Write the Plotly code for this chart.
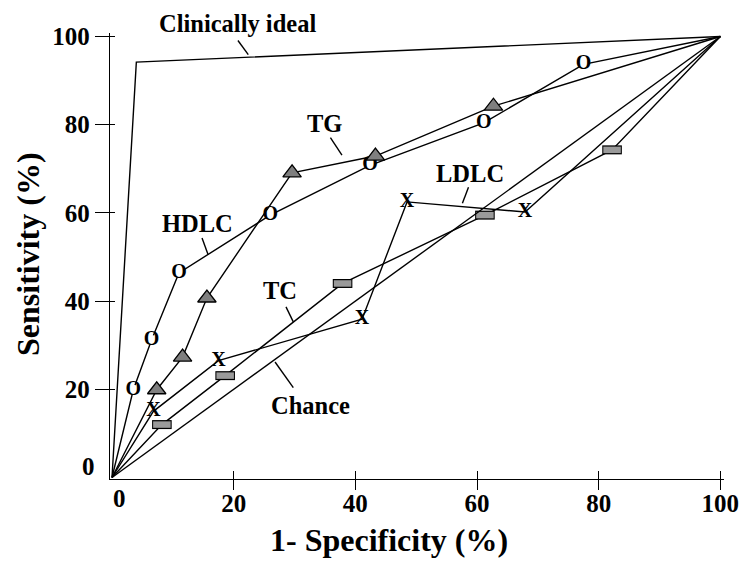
import plotly.graph_objects as go

# ---- data (1 - specificity %, sensitivity %) ----
fpr_hdlc = [0, 3.5, 6.5, 11.0, 26.0, 42.4, 61.1, 77.5, 100]
sens_hdlc = [0, 19.9, 31.2, 46.4, 59.5, 70.8, 80.4, 93.7, 100]

fpr_tg = [0, 7.35, 11.6, 15.6, 29.6, 43.3, 62.7, 100]
sens_tg = [0, 19.9, 27.3, 40.7, 69.1, 72.9, 84.2, 100]

fpr_ldlc = [0, 6.8, 17.5, 41.1, 48.5, 67.9, 100]
sens_ldlc = [0, 15.0, 26.5, 35.9, 62.5, 60.2, 100]

fpr_tc = [0, 8.2, 18.6, 37.9, 61.3, 82.2, 100]
sens_tc = [0, 12.0, 23.1, 44.0, 59.5, 74.3, 100]

fpr_chance = [0, 100]
sens_chance = [0, 100]

fpr_ideal = [0, 4.0, 100]
sens_ideal = [0, 94.2, 100]

tick_vals = [20, 40, 60, 80, 100]
tick_text = ["20", "40", "60", "80", "100"]

# labels inside the plot: (text, x, y) and leader lines (x0, y0, x1, y1)
labels = [
    ("TG", 35.0, 80.3),
    ("HDLC", 14.1, 57.6),
    ("TC", 27.6, 42.5),
    ("Chance", 32.6, 16.3),
    ("LDLC", 58.9, 69.0),
]
leaders = [
    (20.7, 99.1, 22.4, 95.9),
    (35.9, 77.1, 37.8, 73.1),
    (14.8, 54.3, 15.8, 50.5),
    (28.6, 38.7, 29.8, 35.3),
    (26.8, 26.2, 29.8, 20.4),
    (58.6, 65.8, 57.6, 62.2),
]

FONT = "Liberation Serif"
LW = 1.4
XR = [-0.33, 100.6]
YR = [-0.34, 100.8]

fig = go.Figure()

line_style = dict(color="black", width=LW)
for xs, ys in [(fpr_ideal, sens_ideal), (fpr_hdlc, sens_hdlc), (fpr_tg, sens_tg),
               (fpr_ldlc, sens_ldlc), (fpr_tc, sens_tc)]:
    fig.add_trace(go.Scatter(x=xs, y=ys, mode="lines", line=line_style, hoverinfo="skip"))

# HDLC markers: "O"
fig.add_trace(go.Scatter(
    x=fpr_hdlc[1:-1], y=sens_hdlc[1:-1], mode="markers+text", text=["O"] * (len(fpr_hdlc) - 2),
    textposition="middle center",
    marker=dict(symbol="circle", size=10, color="white", line=dict(width=0)),
    textfont=dict(family=FONT, size=20, color="black", weight="bold"), hoverinfo="skip"))

# TG markers: gray triangles
fig.add_trace(go.Scatter(
    x=fpr_tg[1:-1], y=sens_tg[1:-1], mode="markers",
    marker=dict(symbol="triangle-up", size=16, color="#7f7f7f", line=dict(width=1.3, color="black")),
    hoverinfo="skip"))

# LDLC markers: "X"
fig.add_trace(go.Scatter(
    x=fpr_ldlc[1:-1], y=sens_ldlc[1:-1], mode="text", text=["X"] * (len(fpr_ldlc) - 2),
    textposition="middle center",
    textfont=dict(family=FONT, size=20, color="black", weight="bold"), hoverinfo="skip"))

# TC markers: small flat rectangles (border + fill)
fig.add_trace(go.Scatter(
    x=fpr_tc[1:-1], y=sens_tc[1:-1], mode="markers",
    marker=dict(symbol="line-ew", size=14, color="black", line=dict(width=9, color="black")),
    hoverinfo="skip"))
fig.add_trace(go.Scatter(
    x=fpr_tc[1:-1], y=sens_tc[1:-1], mode="markers",
    marker=dict(symbol="line-ew", size=12.5, color="#9a9a9a", line=dict(width=6.5, color="#9a9a9a")),
    hoverinfo="skip"))

# Chance line on overlay axes (which also carry the inner half of the ticks)
fig.add_trace(go.Scatter(x=fpr_chance, y=sens_chance, mode="lines", line=line_style,
                         xaxis="x2", yaxis="y2", hoverinfo="skip"))

tickfont = dict(family=FONT, size=25, color="black", weight="bold")

fig.update_layout(
    width=742, height=566, autosize=False,
    margin=dict(l=110, r=18.4, t=32.5, b=86.5, pad=0),
    paper_bgcolor="white", plot_bgcolor="white",
    showlegend=False,
    xaxis=dict(range=XR, showline=True, linecolor="black", linewidth=LW,
               ticks="outside", ticklen=10, tickwidth=LW, tickcolor="black",
               tickvals=tick_vals, ticktext=tick_text, tickfont=tickfont,
               ticklabelstandoff=-8, automargin=False,
               showgrid=False, zeroline=False),
    yaxis=dict(range=YR, showline=True, linecolor="black", linewidth=LW,
               ticks="outside", ticklen=14, tickwidth=LW, tickcolor="black",
               tickvals=tick_vals, ticktext=tick_text, tickfont=tickfont,
               automargin=False,
               showgrid=False, zeroline=False),
    xaxis2=dict(range=XR, overlaying="x", side="bottom", anchor="y2",
                ticks="inside", ticklen=8, tickwidth=LW, tickcolor="black",
                tickvals=tick_vals, showticklabels=False, showline=False,
                automargin=False, showgrid=False, zeroline=False),
    yaxis2=dict(range=YR, overlaying="y", side="left", anchor="x2",
                ticks="inside", ticklen=5, tickwidth=LW, tickcolor="black",
                tickvals=tick_vals, showticklabels=False, showline=False,
                automargin=False, showgrid=False, zeroline=False),
)

ann_font = dict(family=FONT, size=24.5, color="black", weight="bold")
for text, x, y in labels:
    fig.add_annotation(x=x, y=y, xref="x", yref="y", text=text, showarrow=False,
                       font=ann_font, xanchor="center", yanchor="middle")
# label above the plot area (paper y so it is not hidden outside the axis range)
fig.add_annotation(x=20.6, y=1.0213, xref="x", yref="paper", text="Clinically ideal",
                   showarrow=False, font=ann_font, xanchor="center", yanchor="middle")

for x0, y0, x1, y1 in leaders:
    fig.add_shape(type="line", x0=x0, y0=y0, x1=x1, y1=y1, xref="x", yref="y",
                  line=dict(color="black", width=LW))

# zero labels at the origin
fig.add_annotation(x=0, y=0, xref="paper", yref="y", text="0", showarrow=False,
                   font=tickfont, xanchor="right", yanchor="middle", xshift=-13, yshift=11)
fig.add_annotation(x=0, y=0, xref="x", yref="paper", text="0", showarrow=False,
                   font=tickfont, xanchor="center", yanchor="top", xshift=7.5, yshift=-4)

# axis titles
title_font = dict(family=FONT, size=32, color="black", weight="bold")
fig.add_annotation(x=0.4547, y=0, xref="paper", yref="paper", text="1- Specificity (%)",
                   showarrow=False, font=title_font, xanchor="center", yanchor="middle",
                   yshift=-61)
fig.add_annotation(x=-0.1336, y=0.5045, xref="paper", yref="paper", text="Sensitivity (%)",
                   showarrow=False, font=title_font, textangle=-90,
                   xanchor="center", yanchor="middle")

fig.write_html("out.html",
               config={"displayModeBar": False, "responsive": False},
               post_script="document.body.style.margin='0';document.body.style.padding='0';")
